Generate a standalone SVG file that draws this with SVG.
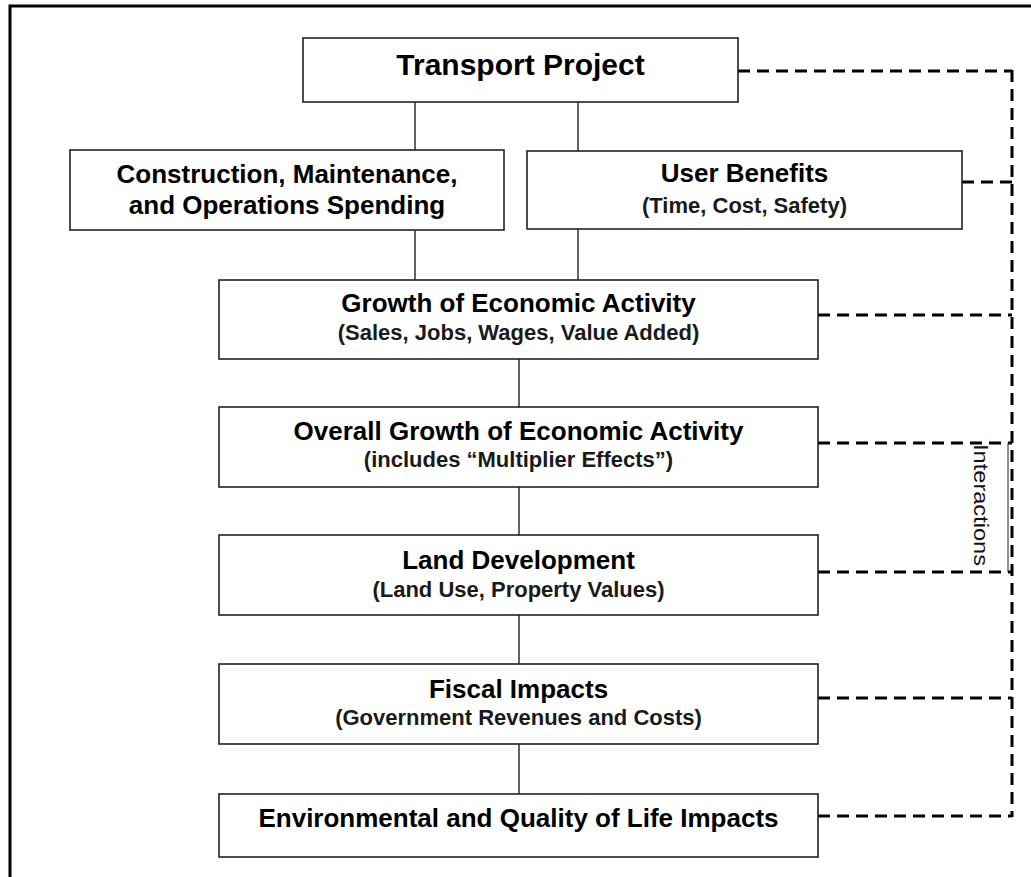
<svg xmlns="http://www.w3.org/2000/svg" width="1031" height="877" viewBox="0 0 1031 877">
<style>
.box{fill:#fff;stroke:#222;stroke-width:1.6}
.t{font-family:"Liberation Sans",Arial,sans-serif;font-weight:bold;fill:#000;text-anchor:middle}
.h{font-size:26px}
.s{font-size:22px;fill:#1a1a1a}
.solid{stroke:#222;stroke-width:1.4;fill:none}
.dash{stroke:#000;stroke-width:3;fill:none;stroke-dasharray:12 7}
</style>
<rect width="1031" height="877" fill="#fff"/>
<path d="M10,877 V6 H1031" fill="none" stroke="#000" stroke-width="3"/>
<g id="connectors">
<line class="solid" x1="415" y1="102" x2="415" y2="150"/>
<line class="solid" x1="578" y1="102" x2="578" y2="151"/>
<line class="solid" x1="415" y1="230" x2="415" y2="280"/>
<line class="solid" x1="578" y1="229" x2="578" y2="280"/>
<line class="solid" x1="519" y1="359" x2="519" y2="407"/>
<line class="solid" x1="519" y1="487" x2="519" y2="535"/>
<line class="solid" x1="519" y1="615" x2="519" y2="664"/>
<line class="solid" x1="519" y1="744" x2="519" y2="794"/>
<line class="dash" x1="738" y1="71" x2="1012" y2="71"/>
<line class="dash" x1="962" y1="182" x2="1012" y2="182"/>
<line class="dash" x1="818" y1="315" x2="1012" y2="315"/>
<line class="dash" x1="818" y1="443" x2="1012" y2="443"/>
<line class="dash" x1="818" y1="572" x2="1012" y2="572"/>
<line class="dash" x1="818" y1="698" x2="1012" y2="698"/>
<line class="dash" x1="818" y1="816" x2="1012" y2="816"/>
<line class="dash" x1="1012" y1="70" x2="1012" y2="817"/>
<line x1="1008" y1="443" x2="1008" y2="572" stroke="#222" stroke-width="1"/>
<text transform="translate(974,505) rotate(90)" font-family="Liberation Sans,Arial,sans-serif" font-size="20" fill="#111" text-anchor="middle" textLength="122" lengthAdjust="spacingAndGlyphs">Interactions</text>
</g>
<g id="transport">
<rect class="box" x="303" y="38" width="435" height="64"/>
<text class="t" x="520.5" y="75" font-size="30">Transport Project</text>
</g>
<g id="construction">
<rect class="box" x="70" y="150" width="434" height="80"/>
<text class="t h" x="287" y="183">Construction, Maintenance,</text>
<text class="t h" x="287" y="214">and Operations Spending</text>
</g>
<g id="userbenefits">
<rect class="box" x="527" y="151" width="435" height="78"/>
<text class="t h" x="744.5" y="182">User Benefits</text>
<text class="t s" x="744.5" y="213">(Time, Cost, Safety)</text>
</g>
<g id="growth">
<rect class="box" x="219" y="280" width="599" height="79"/>
<text class="t h" x="518.5" y="312">Growth of Economic Activity</text>
<text class="t s" x="518.5" y="340">(Sales, Jobs, Wages, Value Added)</text>
</g>
<g id="overall">
<rect class="box" x="219" y="407" width="599" height="80"/>
<text class="t h" x="518.5" y="440">Overall Growth of Economic Activity</text>
<text class="t s" x="518.5" y="467">(includes “Multiplier Effects”)</text>
</g>
<g id="land">
<rect class="box" x="219" y="535" width="599" height="80"/>
<text class="t h" x="518.5" y="569">Land Development</text>
<text class="t s" x="518.5" y="597">(Land Use, Property Values)</text>
</g>
<g id="fiscal">
<rect class="box" x="219" y="664" width="599" height="80"/>
<text class="t h" x="518.5" y="698">Fiscal Impacts</text>
<text class="t s" x="518.5" y="725">(Government Revenues and Costs)</text>
</g>
<g id="environmental">
<rect class="box" x="219" y="794" width="599" height="63"/>
<text class="t h" x="518.5" y="827">Environmental and Quality of Life Impacts</text>
</g>
</svg>
